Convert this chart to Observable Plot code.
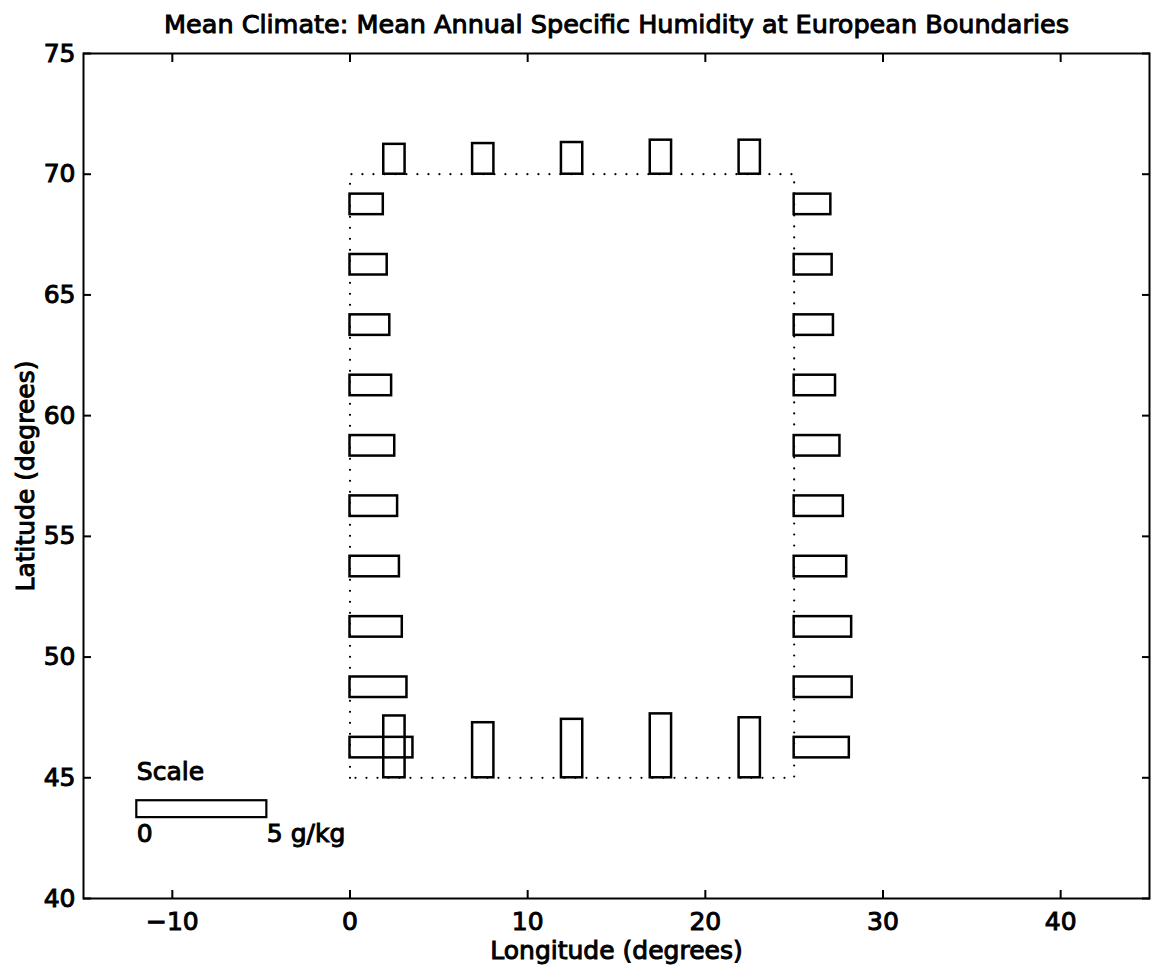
<!DOCTYPE html>
<html>
<head>
<meta charset="utf-8">
<script src="https://cdn.jsdelivr.net/npm/d3@7"></script>
<script src="https://cdn.jsdelivr.net/npm/@observablehq/plot@0.6"></script>
<style>
  html, body { margin: 0; padding: 0; background: #fff; }
  #chart svg { display: block; }
  #chart svg text { stroke: #000; stroke-width: 1px; paint-order: stroke; }
</style>
</head>
<body>
<div id="chart"></div>
<script>
// ---- Data ----
const titleText = "Mean Climate: Mean Annual Specific Humidity at European Boundaries";
const xLabel = "Longitude (degrees)";
const yLabel = "Latitude (degrees)";

const xTicks = [-10, 0, 10, 20, 30, 40];
const yTicks = [40, 45, 50, 55, 60, 65, 70, 75];

// boundary of the European box (dotted)
const boundaryLon = [0, 0, 25, 25, 0];
const boundaryLat = [45, 70, 70, 45, 45];

// western / eastern boundary points (latitudes), humidity in g/kg
const sideLats = [68.75, 66.25, 63.75, 61.25, 58.75, 56.25, 53.75, 51.25, 48.75, 46.25];
const westQ = [1.28, 1.43, 1.53, 1.60, 1.72, 1.83, 1.90, 2.01, 2.19, 2.42];
const eastQ = [1.41, 1.46, 1.51, 1.59, 1.76, 1.89, 2.02, 2.21, 2.23, 2.12];

// northern / southern boundary points (longitudes), humidity in g/kg
const edgeLons = [2.5, 7.5, 12.5, 17.5, 22.5];
const northQ = [1.15, 1.18, 1.22, 1.31, 1.31];
const southQ = [2.38, 2.12, 2.25, 2.46, 2.31];

// scale bar: 5 g/kg
const scaleQ = 5;
const scaleLon = -12;
const scaleLat = 43.7;
const scaleLabel0 = "0";
const scaleLabel1 = "5 g/kg";
const scaleTitle = "Scale";

// ---- conversion (degrees per g/kg) ----
const lonPerQ = 1.464;
const latPerQ = 1.076;
const halfH = 0.425;   // half thickness (lat) of horizontal boxes
const halfW = 0.6;     // half thickness (lon) of vertical boxes

const westLon = boundaryLon[0], eastLon = boundaryLon[2];
const southLat = boundaryLat[0], northLat = boundaryLat[1];

const hBoxes = [
  ...sideLats.map((lat, i) => ({x1: westLon, x2: westLon + westQ[i] * lonPerQ, y1: lat - halfH, y2: lat + halfH})),
  ...sideLats.map((lat, i) => ({x1: eastLon, x2: eastLon + eastQ[i] * lonPerQ, y1: lat - halfH, y2: lat + halfH}))
];
const vBoxes = [
  ...edgeLons.map((lon, i) => ({x1: lon - halfW, x2: lon + halfW, y1: northLat, y2: northLat + northQ[i] * latPerQ})),
  ...edgeLons.map((lon, i) => ({x1: lon - halfW, x2: lon + halfW, y1: southLat, y2: southLat + southQ[i] * latPerQ}))
];
const scaleBox = [{x1: scaleLon, x2: scaleLon + scaleQ * lonPerQ, y1: scaleLat - 0.35, y2: scaleLat + 0.35}];
const boundary = boundaryLon.map((lon, i) => ({lon, lat: boundaryLat[i]}));

const font = "'DejaVu Sans', 'Liberation Sans', Arial, sans-serif";

const chart = Plot.plot({
  width: 1154,
  height: 975,
  marginTop: 53,
  marginBottom: 77,
  marginLeft: 83,
  marginRight: 5,
  style: {fontFamily: font, fontSize: "25px", color: "black", background: "white"},
  x: {domain: [-15, 45]},
  y: {domain: [40, 75]},
  marks: [
    Plot.line(boundary, {x: "lon", y: "lat", stroke: "black", strokeWidth: 2.2, strokeDasharray: "0,11", strokeLinecap: "round"}),
    Plot.rect(hBoxes, {x1: "x1", x2: "x2", y1: "y1", y2: "y2", fill: "none", stroke: "black", strokeWidth: 2.5}),
    Plot.rect(vBoxes, {x1: "x1", x2: "x2", y1: "y1", y2: "y2", fill: "none", stroke: "black", strokeWidth: 2.5}),
    Plot.rect(scaleBox, {x1: "x1", x2: "x2", y1: "y1", y2: "y2", fill: "none", stroke: "black", strokeWidth: 2.2}),
    Plot.text([scaleTitle], {x: scaleLon, y: scaleLat + 0.35, dy: -29, textAnchor: "start", lineAnchor: "middle", fontSize: 25}),
    Plot.text([scaleLabel0], {x: scaleLon, y: scaleLat - 0.35, dy: 16, textAnchor: "start", lineAnchor: "middle", fontSize: 25}),
    Plot.text([scaleLabel1], {x: scaleLon + scaleQ * lonPerQ, y: scaleLat - 0.35, dy: 16, textAnchor: "start", lineAnchor: "middle", fontSize: 25}),
    // inward ticks on all four sides
    Plot.axisX(xTicks, {anchor: "bottom", tickSize: -8, tickFormat: () => "", label: null, strokeWidth: 2}),
    Plot.axisX(xTicks, {anchor: "top", tickSize: -8, tickFormat: () => "", label: null, strokeWidth: 2}),
    Plot.axisY(yTicks, {anchor: "left", tickSize: -8, tickFormat: () => "", label: null, strokeWidth: 2}),
    Plot.axisY(yTicks, {anchor: "right", tickSize: -8, tickFormat: () => "", label: null, strokeWidth: 2}),
    // tick labels
    Plot.axisX(xTicks, {anchor: "bottom", tickSize: 0, tickPadding: 14, label: null, fontSize: 25, tickFormat: d => d < 0 ? "\u2212" + Math.abs(d) : String(d)}),
    Plot.axisY(yTicks, {anchor: "left", tickSize: 0, tickPadding: 8, label: null, fontSize: 25}),
    Plot.frame({stroke: "black", strokeWidth: 2}),
    // title & axis labels
    Plot.text([titleText], {frameAnchor: "top", textAnchor: "middle", lineAnchor: "middle", dy: -29, fontSize: 25.5}),
    Plot.text([xLabel], {frameAnchor: "bottom", textAnchor: "middle", lineAnchor: "middle", dy: 52, fontSize: 25}),
    Plot.text([yLabel], {frameAnchor: "left", textAnchor: "middle", lineAnchor: "middle", rotate: -90, dx: -58, fontSize: 25})
  ]
});
document.getElementById("chart").appendChild(chart);
</script>
</body>
</html>
